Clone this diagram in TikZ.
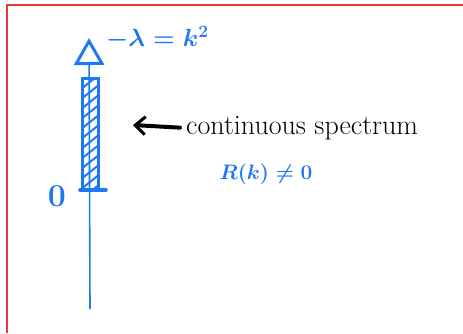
\documentclass[tikz,border=0pt]{standalone}
\usepackage{amsmath,amssymb}
\usepackage{tikz}
\usetikzlibrary{arrows.meta,positioning}
\definecolor{penblue}{RGB}{30,120,240}
\definecolor{penred}{RGB}{230,60,55}

\begin{document}
\begin{tikzpicture}[x=1pt,y=-1pt,
  ax/.style={penblue,line width=1.6pt},
  lbl/.style={inner sep=0pt,font=\fontsize{27}{32}\selectfont\bfseries\boldmath},
  ar/.style={-{Straight Barb[length=10pt,width=18pt,line width=3pt]},line width=4pt,line cap=round}
]
\useasboundingbox (0,0) rectangle (463,333);
% frame, cut off at right and bottom
\draw[penred,line width=2pt] (7,333) -- (7,5) -- (463,5);

% axis
\coordinate (bot) at (90,309);
\coordinate (top) at (89,38);
\draw[ax,-{Triangle[open,length=27pt,width=30pt,line width=3pt]}] (bot) -- (top);

% hatched band
\coordinate (bl) at (82,190);
\coordinate (tr) at (98,78);
\begin{scope}
  \clip (bl) rectangle (tr);
  \foreach \y in {70,80,...,200}
    \draw[penblue,line width=2pt] (80,\y+10) -- (100,\y-6);
\end{scope}
\draw[penblue,line width=3pt] (bl) rectangle (tr);
\draw[penblue,line width=3.5pt,line cap=round] (80,190) -- (106,190);

% labels
\node[lbl,penblue,font=\fontsize{32}{38}\selectfont\bfseries] (zero) at (57,196) {0};
\node[lbl,penblue,anchor=west] (eig) at (106,38) {$-\lambda=k^2$};
\node[lbl,anchor=west,font=\fontsize{28}{32}\selectfont] (spec) at (186,128) {continuous spectrum};
\node[lbl,penblue,font=\fontsize{25}{30}\selectfont\boldmath] (refl) at (266,174) {\scalebox{0.84}{$R(k)\neq0$}};
\coordinate (arrtip) at (133,125);
\draw[ar,shorten <=6pt] (spec.west) -- (arrtip);
\end{tikzpicture}
\end{document}
